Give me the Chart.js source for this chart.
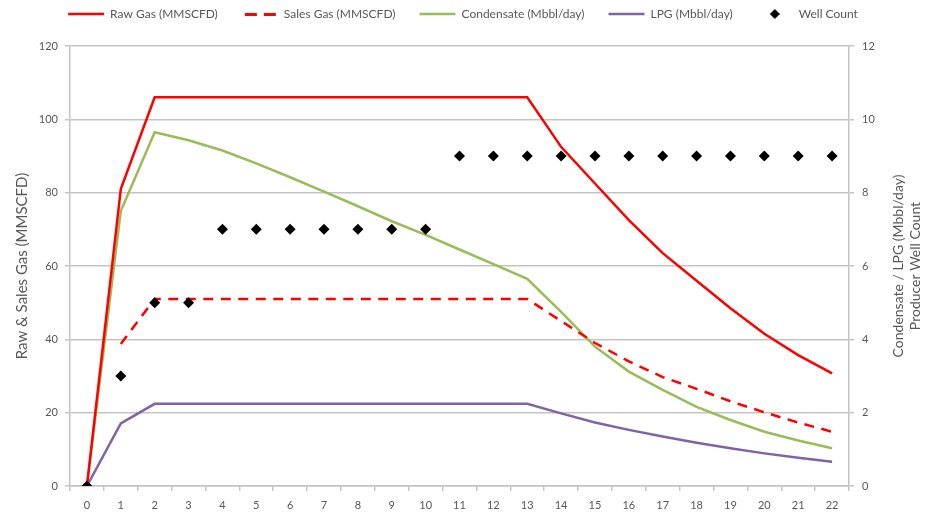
<!DOCTYPE html>
<html>
<head>
<meta charset="utf-8">
<title>Production profile</title>
<script src="https://cdn.jsdelivr.net/npm/chart.js@4.4.1/dist/chart.umd.min.js"></script>
<style>
  html, body { margin: 0; padding: 0; background: #fff; }
  #wrap { width: 926px; height: 516px; }
</style>
</head>
<body>
<div id="wrap"><canvas id="chart" width="926" height="516"></canvas></div>
<script>
// x axis: years on stream
const years = ['0', '1', '2', '3', '4', '5', '6', '7', '8', '9', '10', '11',
               '12', '13', '14', '15', '16', '17', '18', '19', '20', '21', '22'];

// left axis (MMSCFD)
const rawGas   = [0, 81, 106, 106, 106, 106, 106, 106, 106, 106, 106, 106,
                  106, 106, 92.5, 82.5, 72.5, 63.5, 56, 48.5, 41.5, 35.7, 30.7];
const salesGas = [null, 38.7, 51, 51, 51, 51, 51, 51, 51, 51, 51, 51,
                  51, 51, 45, 39, 34, 29.7, 26.5, 23.1, 20.1, 17.3, 14.8];

// right axis (Mbbl/day and well count)
const condensate = [0, 7.5, 9.65, 9.43, 9.15, 8.8, 8.42, 8.03, 7.63, 7.22, 6.85, 6.45,
                    6.05, 5.65, 4.75, 3.8, 3.12, 2.62, 2.16, 1.8, 1.48, 1.24, 1.03];
const lpg        = [0, 1.71, 2.24, 2.24, 2.24, 2.24, 2.24, 2.24, 2.24, 2.24, 2.24, 2.24,
                    2.24, 2.24, 1.98, 1.73, 1.53, 1.35, 1.18, 1.03, 0.89, 0.77, 0.66];
const wellCount  = [0, 3, 5, 5, 7, 7, 7, 7, 7, 7, 7, 9,
                    9, 9, 9, 9, 9, 9, 9, 9, 9, 9, 9];

const leftTicks  = [0, 20, 40, 60, 80, 100, 120];
const rightTicks = [0, 2, 4, 6, 8, 10, 12];

const gridColor = '#c4c4c4';
const textColor = '#595959';
const fontName = 'Lato';

// small diamond used as the legend icon of the well count
const diamondIcon = document.createElement('canvas');
diamondIcon.width = 10;
diamondIcon.height = 10;
const dctx = diamondIcon.getContext('2d');
dctx.fillStyle = '#000';
dctx.beginPath();
dctx.moveTo(5, 0);
dctx.lineTo(10, 5);
dctx.lineTo(5, 10);
dctx.lineTo(0, 5);
dctx.closePath();
dctx.fill();

// dashed legend icon for sales gas (the legend ignores lineDash with point styles)
const dashIcon = document.createElement('canvas');
dashIcon.width = 36;
dashIcon.height = 3;
const sctx = dashIcon.getContext('2d');
sctx.fillStyle = '#ff0000';
sctx.fillRect(3, 0, 12, 3);
sctx.fillRect(22, 0, 12, 3);

// make room under the legend
const legendSpacer = {
    id: 'legendSpacer',
    beforeInit(chart) {
        const fit = chart.legend.fit;
        chart.legend.fit = function () {
            fit.call(chart.legend);
            this.height = 62;
        };
    }
};

// right axis title reads bottom to top, like the left one
const rightTitle = {
    id: 'rightTitle',
    afterDraw(chart) {
        const ctx = chart.ctx;
        const x = chart.chartArea.right + 49;
        const y = (chart.chartArea.top + chart.chartArea.bottom) / 2;
        ctx.save();
        ctx.translate(x, y);
        ctx.rotate(-Math.PI / 2);
        ctx.textAlign = 'center';
        ctx.textBaseline = 'middle';
        ctx.fillStyle = textColor;
        ctx.font = '14px ' + fontName;
        ctx.fillText('Condensate / LPG (Mbbl/day)', 0, 0);
        ctx.fillText('Producer Well Count', 0, 17);
        ctx.restore();
    }
};

const ctx = document.getElementById('chart').getContext('2d');
new Chart(ctx, {
    type: 'line',
    data: {
        labels: years,
        datasets: [{
            label: 'Raw Gas (MMSCFD)',
            data: rawGas,
            yAxisID: 'y',
            borderColor: '#ff0000',
            borderWidth: 2.5,
            pointRadius: 0,
            pointStyle: 'line'
        }, {
            label: 'Sales Gas (MMSCFD)',
            data: salesGas,
            yAxisID: 'y',
            borderColor: '#ff0000',
            borderWidth: 2.5,
            borderDash: [10, 7.5],
            pointRadius: 0,
            pointStyle: 'line'
        }, {
            label: 'Condensate (Mbbl/day)',
            data: condensate,
            yAxisID: 'y1',
            borderColor: '#9bbb59',
            borderWidth: 2.5,
            pointRadius: 0,
            pointStyle: 'line'
        }, {
            label: 'LPG (Mbbl/day)',
            data: lpg,
            yAxisID: 'y1',
            borderColor: '#8064a2',
            borderWidth: 2.5,
            pointRadius: 0,
            pointStyle: 'line'
        }, {
            label: 'Well Count',
            data: wellCount,
            yAxisID: 'y1',
            showLine: false,
            order: -1,
            borderColor: '#000',
            backgroundColor: '#000',
            pointStyle: 'rectRot',
            pointRadius: 5.5,
            pointBorderWidth: 0
        }]
    },
    options: {
        responsive: false,
        animation: false,
        events: [],
        layout: {
            padding: { top: -16, left: 0, right: 0, bottom: 0 }
        },
        plugins: {
            tooltip: { enabled: false },
            legend: {
                position: 'top',
                labels: {
                    usePointStyle: true,
                    pointStyleWidth: 36,
                    padding: 24,
                    color: textColor,
                    font: { family: fontName, size: 12 },
                    sort: (a, b) => a.datasetIndex - b.datasetIndex,
                    generateLabels(chart) {
                        const items = Chart.defaults.plugins.legend.labels.generateLabels(chart);
                        items.forEach(item => {
                            if (item.datasetIndex === 1) {
                                item.pointStyle = dashIcon;
                            }
                            if (item.datasetIndex === 4) {
                                item.pointStyle = diamondIcon;
                            }
                        });
                        return items;
                    }
                }
            }
        },
        scales: {
            x: {
                offset: true,
                grid: {
                    offset: true,
                    drawOnChartArea: false,
                    tickLength: 5,
                    color: gridColor,
                    lineWidth: 1.5
                },
                border: { display: true, color: gridColor, width: 1.5 },
                ticks: {
                    color: textColor,
                    font: { family: fontName, size: 11 },
                    padding: 8,
                    maxRotation: 0,
                    autoSkip: false
                },
                afterFit(scale) { scale.height = 30; }
            },
            y: {
                position: 'left',
                min: leftTicks[0],
                max: leftTicks[leftTicks.length - 1],
                afterBuildTicks(scale) { scale.ticks = leftTicks.map(v => ({ value: v })); },
                grid: { tickLength: 5, color: gridColor, lineWidth: 1.5 },
                border: { display: true, color: gridColor, width: 1.5 },
                ticks: {
                    color: textColor,
                    font: { family: fontName, size: 11 },
                    padding: 7
                },
                title: {
                    display: true,
                    text: 'Raw & Sales Gas (MMSCFD)',
                    color: textColor,
                    font: { family: fontName, size: 15 },
                    padding: { top: 13, bottom: 0 }
                },
                afterFit(scale) { scale.width = 70; }
            },
            y1: {
                position: 'right',
                min: rightTicks[0],
                max: rightTicks[rightTicks.length - 1],
                afterBuildTicks(scale) { scale.ticks = rightTicks.map(v => ({ value: v })); },
                grid: { drawOnChartArea: false, tickLength: 5, color: gridColor, lineWidth: 1.5 },
                border: { display: true, color: gridColor, width: 1.5 },
                ticks: {
                    color: textColor,
                    font: { family: fontName, size: 11 },
                    padding: 8
                },
                afterFit(scale) { scale.width = 77; }
            }
        }
    },
    plugins: [legendSpacer, rightTitle]
});
</script>
</body>
</html>
